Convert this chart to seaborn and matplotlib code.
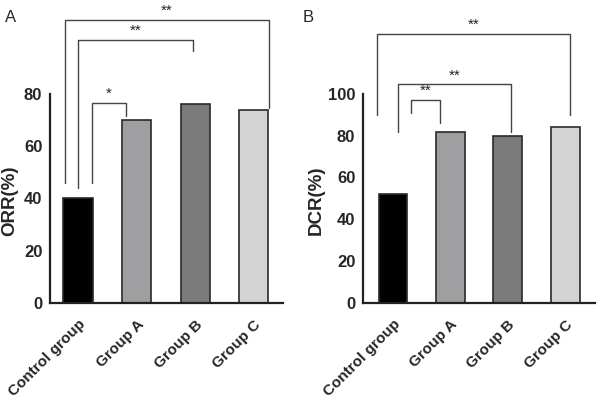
import pandas as pd
import matplotlib.pyplot as plt
import seaborn as sns

groups = ['Control group', 'Group A', 'Group B', 'Group C']
orr = [40, 70, 76, 74]
dcr = [52, 82, 80, 84]
bar_colors = ['#000000', '#9e9ea2', '#7b7b7b', '#d4d4d4']

# brackets: (x_left, y_left_bottom, x_right, y_right_bottom, y_top, label)
orr_brackets = [
    (0.24, 46, 0.82, 71.5, 76.5, '*'),
    (0.0, 44, 1.97, 96.5, 100.5, '**'),
    (-0.22, 46, 3.26, 74.6, 108.3, '**'),
]
dcr_brackets = [
    (0.31, 90.7, 0.82, 86.2, 97, '**'),
    (0.09, 82, 2.05, 82, 104.6, '**'),
    (-0.28, 90, 3.09, 90, 128.6, '**'),
]

sns.set_style('white')
plt.rcParams['font.family'] = ['Liberation Sans', 'DejaVu Sans']

fig = plt.figure(figsize=(6, 4.01), dpi=100)
ax1 = fig.add_axes([0.0833, 0.245, 0.3884, 0.5206])
ax2 = fig.add_axes([0.605, 0.245, 0.3867, 0.5206])


def draw_panel(ax, values, ylabel, ymax, brackets, label_x):
    df = pd.DataFrame({'group': groups, 'value': values})
    sns.barplot(data=df, x='group', y='value', hue='group', palette=bar_colors,
                width=0.5, edgecolor='#2a2a2a', linewidth=1.2, legend=False, ax=ax)
    ax.set_xlim(-0.5, 3.5)
    ax.set_ylim(0, ymax)
    ax.set_yticks(range(0, ymax + 1, 20))
    ax.set_xlabel('')
    ax.set_ylabel(ylabel, fontsize=13.5, fontweight='bold')
    ax.yaxis.set_label_coords(label_x, 0.49)
    sns.despine(ax=ax)
    for side in ['left', 'bottom']:
        ax.spines[side].set_linewidth(1.6)
        ax.spines[side].set_color('#222222')
    ax.tick_params(axis='both', direction='out', width=1.6,
                   color='#222222', labelsize=12)
    ax.tick_params(axis='x', length=7)
    ax.tick_params(axis='y', length=4, pad=1.5)
    for lab in ax.get_yticklabels():
        lab.set_fontweight('bold')
    ax.set_xticks(range(len(groups)))
    ax.set_xticklabels(groups, rotation=45, ha='right', rotation_mode='anchor',
                       fontweight='bold', fontsize=11)
    for xl, yl, xr, yr, yt, lab in brackets:
        ax.plot([xl, xl, xr, xr], [yl, yt, yt, yr], color='#444444', lw=1.0,
                clip_on=False)
        ax.text((xl + xr) / 2, yt + 1.0, lab, ha='center', va='bottom',
                fontsize=11, color='#222222', clip_on=False)


draw_panel(ax1, orr, 'ORR(%)', 80, orr_brackets, -0.135)
draw_panel(ax2, dcr, 'DCR(%)', 100, dcr_brackets, -0.165)
ax1.set_xlim(-0.48, 3.5)
ax2.set_xlim(-0.52, 3.52)

fig.text(0.008, 0.975, 'A', fontsize=12, va='top')
fig.text(0.505, 0.975, 'B', fontsize=12, va='top')

fig.savefig('out.png', dpi=100, facecolor='white')
